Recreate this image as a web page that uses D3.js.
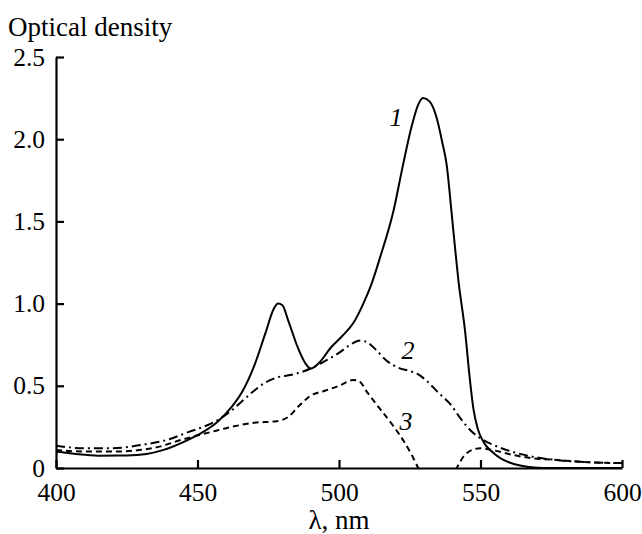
<!DOCTYPE html>
<html>
<head>
<meta charset="utf-8">
<script src="https://cdn.jsdelivr.net/npm/d3@7"></script>
<style>
  body { margin: 0; background: #fff; }
  text { font-family: "Liberation Serif", "Times New Roman", serif; fill: #000; }
</style>
</head>
<body>
<div class="chart"></div>
<script>
// wavelength (nm) and optical density
var xTicks = [400, 450, 500, 550, 600];
var yTicks = [0, 0.5, 1.0, 1.5, 2.0, 2.5];

var wl1 = [400, 407, 415, 425, 432, 438, 444, 450, 457, 462, 466, 470, 474, 477, 478.5, 480, 482, 485.5, 488, 490,
  493, 497, 501, 505, 508.6, 511.5, 514.5, 519.2, 522.7, 525.7, 528, 529.7, 532, 534.5, 536.5, 538, 539.8, 541,
  542.2, 544.5, 546.3, 547.5, 549, 551, 554, 557, 560, 564, 568, 572, 585, 600];
var od1 = [0.10, 0.085, 0.075, 0.076, 0.085, 0.11, 0.15, 0.20, 0.28, 0.37, 0.47, 0.62, 0.82, 0.97, 1.0, 0.99, 0.90, 0.73, 0.64, 0.605,
  0.64, 0.73, 0.80, 0.88, 1.0, 1.12, 1.28, 1.56, 1.85, 2.08, 2.21, 2.25, 2.23, 2.13, 1.98, 1.85, 1.55, 1.34,
  1.14, 0.84, 0.53, 0.36, 0.24, 0.16, 0.10, 0.06, 0.035, 0.015, 0.004, 0, 0, 0];

var wl2 = [400, 410, 420, 430, 440, 447, 452, 457, 462, 466, 470, 474, 478, 484, 490, 495, 500, 504, 507.5,
  510, 513, 517, 521, 525, 528, 531, 535, 539.5, 543, 547, 551, 556, 561, 568, 576, 588, 600];
var od2 = [0.135, 0.12, 0.12, 0.14, 0.175, 0.22, 0.25, 0.29, 0.35, 0.41, 0.47, 0.52, 0.55, 0.57, 0.605, 0.65, 0.70, 0.75, 0.775,
  0.765, 0.72, 0.65, 0.61, 0.59, 0.57, 0.53, 0.46, 0.385, 0.30, 0.22, 0.17, 0.13, 0.10, 0.07, 0.05, 0.035, 0.03];

var wl3 = [400, 410, 420, 434, 445, 455, 462, 470, 478, 482, 486, 490, 495, 500, 505, 507, 510, 514, 519, 523,
  526, 528, 531, 535, 539, 541.6, 544, 547, 550, 554, 560, 568, 576, 588, 600];
var od3 = [0.11, 0.10, 0.10, 0.12, 0.175, 0.22, 0.25, 0.275, 0.285, 0.31, 0.38, 0.44, 0.47, 0.50, 0.535, 0.53, 0.46, 0.37, 0.26, 0.16,
  0.07, 0.0, -0.08, -0.12, -0.08, 0, 0.07, 0.11, 0.12, 0.11, 0.085, 0.06, 0.05, 0.035, 0.03];

var curveLabels = ['1', '2', '3'];
var labelPos = [[520.1, 2.08], [524.4, 0.665], [523.7, 0.23]];

var margin = { top: 57, right: 20, bottom: 66, left: 56 };
var width = 642 - margin.left - margin.right;
var height = 534 - margin.top - margin.bottom;

var svg = d3.select('.chart')
  .append('svg')
    .attr('width', 642)
    .attr('height', 534)
  .append('g')
    .attr('transform', 'translate(' + margin.left + ', ' + margin.top + ')');

var xScale = d3.scaleLinear().domain([400, 600]).range([0, width]);
var yScale = d3.scaleLinear().domain([0, 2.5]).range([height, 0]);

svg.append('clipPath')
    .attr('id', 'plot')
  .append('rect')
    .attr('x', 0)
    .attr('y', -5)
    .attr('width', width + 2)
    .attr('height', height + 5);

var line = d3.line()
  .x(d => xScale(d[0]))
  .y(d => yScale(d[1]))
  .curve(d3.curveMonotoneX);

var series = [
  { x: wl1, y: od1, dash: null },
  { x: wl2, y: od2, dash: '9,4,2,4' },
  { x: wl3, y: od3, dash: '6,4' }
];

svg.append('g')
    .attr('clip-path', 'url(#plot)')
  .selectAll('path')
  .data(series)
  .enter()
  .append('path')
    .attr('d', s => line(s.x.map((v, i) => [v, s.y[i]])))
    .attr('fill', 'none')
    .attr('stroke', '#000')
    .attr('stroke-width', 2)
    .attr('stroke-dasharray', s => s.dash);

// axes, ticks pointing inward
var xAxis = svg.append('g')
  .attr('transform', `translate(0, ${height})`)
  .call(d3.axisBottom(xScale).tickValues(xTicks).tickSizeInner(-8).tickSizeOuter(0).tickPadding(15).tickFormat(d3.format('d')));
var yAxis = svg.append('g')
  .call(d3.axisLeft(yScale).tickValues(yTicks).tickSizeInner(-8).tickSizeOuter(0).tickPadding(11)
    .tickFormat(d => d === 0 ? '0' : d3.format('.1f')(d)));

[xAxis, yAxis].forEach(function (a) {
  a.selectAll('.domain').attr('stroke-width', 2.2);
  a.selectAll('.tick line').attr('stroke-width', 2.2);
  a.selectAll('text')
    .style('font-family', '"Liberation Serif", "Times New Roman", serif')
    .style('font-size', '25.5px');
});

svg.selectAll('.curve-label')
  .data(curveLabels)
  .enter()
  .append('text')
    .attr('class', 'curve-label')
    .attr('x', (d, i) => xScale(labelPos[i][0]))
    .attr('y', (d, i) => yScale(labelPos[i][1]))
    .attr('text-anchor', 'middle')
    .style('font-size', '26px')
    .style('font-style', 'italic')
    .text(d => d);

svg.append('text')
  .attr('x', -48)
  .attr('y', -21)
  .style('font-size', '27px')
  .text('Optical density');

svg.append('text')
  .attr('x', width / 2)
  .attr('y', height + 61)
  .attr('text-anchor', 'middle')
  .style('font-size', '27px')
  .text('λ, nm');
</script>
</body>
</html>
